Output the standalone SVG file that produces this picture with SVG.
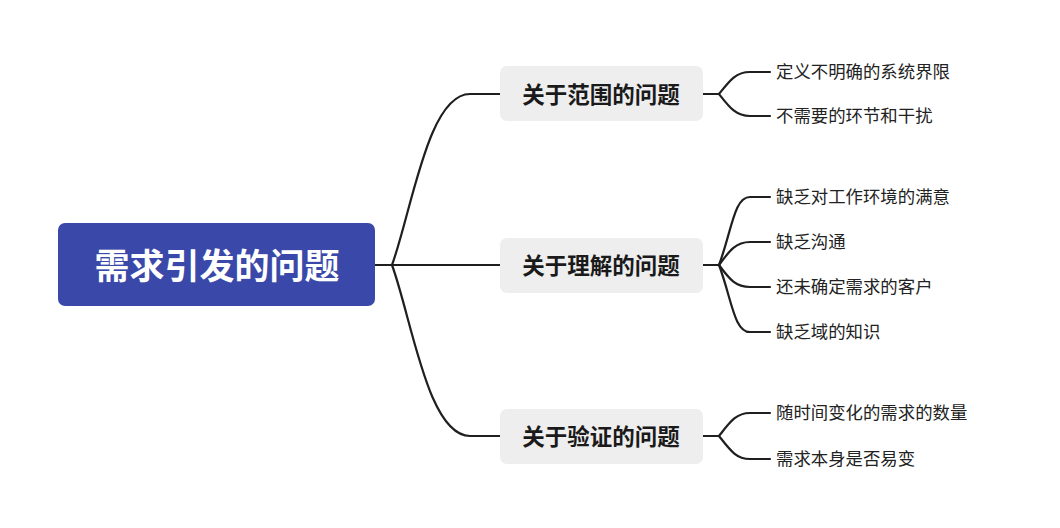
<svg xmlns="http://www.w3.org/2000/svg" width="1060" height="528" viewBox="0 0 1060 528">
<style>
.c{fill:none;stroke:#1f1f1f;stroke-width:2.2;stroke-linecap:round}
.root{fill:#3a49a9}
.br{fill:#eeeeee}
.rt{font-family:"Noto Sans CJK SC","Liberation Sans",sans-serif;font-weight:bold;font-size:35px;fill:#fff;text-anchor:middle;dominant-baseline:central}
.bt{font-family:"Noto Sans CJK SC","Liberation Sans",sans-serif;font-weight:bold;font-size:22.5px;fill:#1a1a1a;text-anchor:middle;dominant-baseline:central}
.lt{font-family:"Noto Sans CJK SC","Liberation Sans",sans-serif;font-size:17.4px;fill:#222;dominant-baseline:central}
</style>
<rect width="1060" height="528" fill="#fff"/>
<g id="connectors">
<path class="c" d="M375,265 L500,265"/>
<path class="c" d="M392,265 C412,210 428,94 470,94 L500,94"/>
<path class="c" d="M392,265 C412,320 428,436 470,436 L500,436"/>
<path class="c" d="M703,94 L719,94 C730,80 736,72 750,72 L770,72"/>
<path class="c" d="M719,94 C730,108 736,116 750,116 L770,116"/>
<path class="c" d="M703,265 L719,265"/>
<path class="c" d="M719,265 C732,230 734,197 750,197 L770,197"/>
<path class="c" d="M719,265 C730,250 736,242 750,242 L770,242"/>
<path class="c" d="M719,265 C730,280 736,287 750,287 L770,287"/>
<path class="c" d="M719,265 C732,300 734,332 750,332 L770,332"/>
<path class="c" d="M703,436 L719,436 C730,422 736,413 750,413 L770,413"/>
<path class="c" d="M719,436 C730,450 736,459 750,459 L770,459"/>
</g>
<g id="root"><rect class="root" x="58" y="223" width="317" height="83" rx="7"/><text class="rt" x="217" y="263">需求引发的问题</text></g>
<g id="b1"><rect class="br" x="500" y="66" width="203" height="55" rx="7"/><text class="bt" x="601" y="92.5">关于范围的问题</text></g>
<g id="b2"><rect class="br" x="500" y="238" width="203" height="55" rx="7"/><text class="bt" x="601" y="263.5">关于理解的问题</text></g>
<g id="b3"><rect class="br" x="500" y="409" width="203" height="55" rx="7"/><text class="bt" x="601" y="434.5">关于验证的问题</text></g>
<g id="l1"><text class="lt" x="776" y="70.5">定义不明确的系统界限</text></g>
<g id="l2"><text class="lt" x="776" y="114.5">不需要的环节和干扰</text></g>
<g id="l3"><text class="lt" x="776" y="195.5">缺乏对工作环境的满意</text></g>
<g id="l4"><text class="lt" x="776" y="240.5">缺乏沟通</text></g>
<g id="l5"><text class="lt" x="776" y="285.5">还未确定需求的客户</text></g>
<g id="l6"><text class="lt" x="776" y="330.5">缺乏域的知识</text></g>
<g id="l7"><text class="lt" x="776" y="411.5">随时间变化的需求的数量</text></g>
<g id="l8"><text class="lt" x="776" y="457.5">需求本身是否易变</text></g>
</svg>
